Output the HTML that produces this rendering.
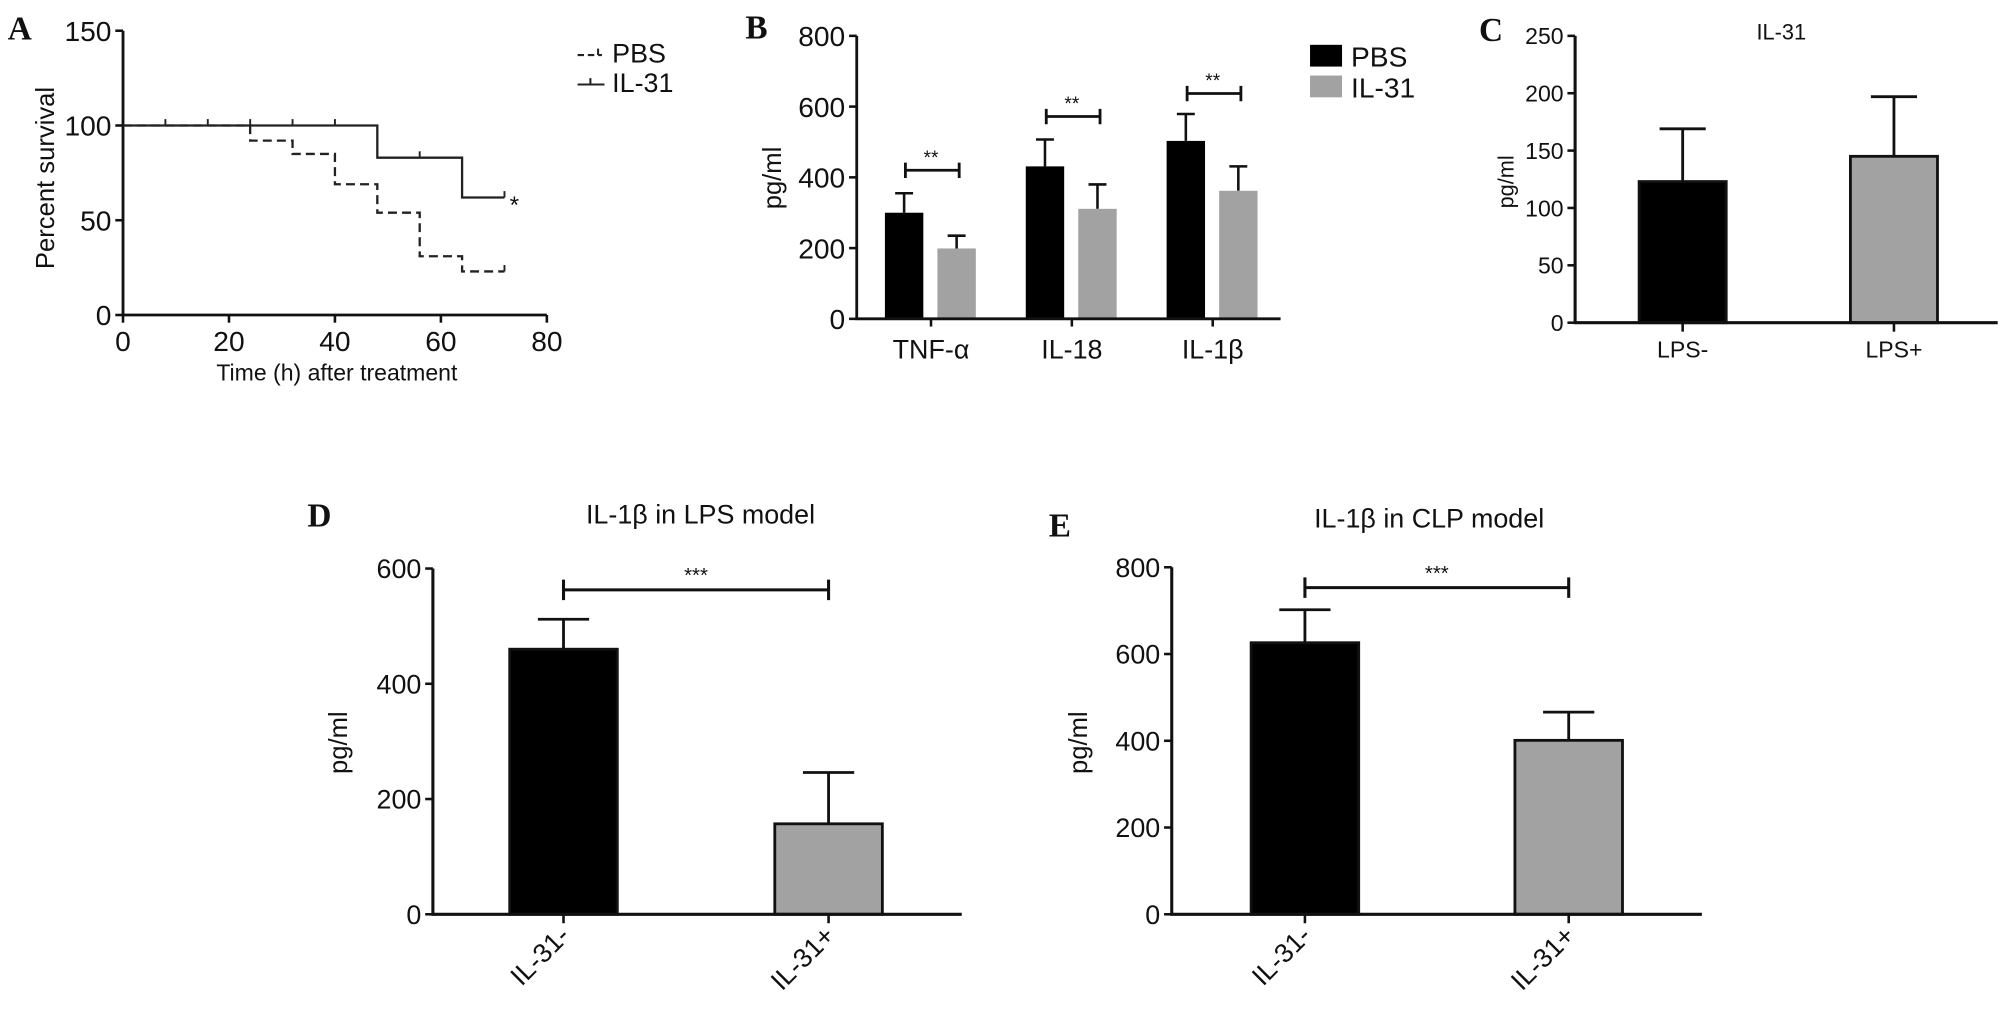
<!DOCTYPE html>
<html><head><meta charset="utf-8"><style>
html,body{margin:0;padding:0;background:#fff}
svg{display:block}
text{font-family:"Liberation Sans",Arial,sans-serif;fill:#111}
.pl{font-family:"Liberation Serif",serif;font-weight:bold;font-size:26px}
</style></head><body>
<svg id="fig" width="2008" height="1018" viewBox="0 0 1568 795" xmlns="http://www.w3.org/2000/svg"></svg>
<script>
// Panel A data
const aTicksX = [0,20,40,60,80];
const aTicksY = [0,50,100,150];
const pbsTimes = [0,24,32,40,48,56,64,72];
const pbsSurv = [100,92,85,69,54,31,23,23];
const il31Times = [0,48,64,72];
const il31Surv = [100,83,62,62];
const il31Censor = [8,16,24,32,40,56,72];
const pbsCensor = [72];
// Panel B data
const bCats = ["TNF-\u03b1","IL-18","IL-1\u03b2"];
const bPBS = [300,431,503];
const bPBSerr = [55,76,76];
const bIL31 = [199,311,362];
const bIL31err = [36,69,69];
const bSig = [420,572,637];
const bTicks = [0,200,400,600,800];
// Panel C data
const cCats = ["LPS-","LPS+"];
const cVals = [123,145];
const cErr = [46,52];
const cTicks = [0,50,100,150,200,250];
// Panel D data
const dCats = ["IL-31-","IL-31+"];
const dVals = [460,157];
const dErr = [52,89];
const dTicks = [0,200,400,600];
const dSig = [563];
// Panel E data
const eCats = ["IL-31-","IL-31+"];
const eVals = [626,401];
const eErr = [76,65];
const eTicks = [0,200,400,600,800];
const eSig = [753];

const NS="http://www.w3.org/2000/svg";
const svg=document.getElementById('fig');
function el(tag,attrs,parent,txt){const e=document.createElementNS(NS,tag);for(const k in attrs)e.setAttribute(k,attrs[k]);if(txt!==undefined)e.textContent=txt;(parent||svg).appendChild(e);return e;}
function grp(name){const g=el('g',{});return g;}

// ---------- Panel A ----------
(function(){
 const g=grp('panel-a');
 const x0=96,x1=427,y0=246,y1=24;
 const sx=v=>x0+(v-0)/(80)*(x1-x0), sy=v=>y0-(v/150)*(y0-y1);
 let t=el('text',{x:6,y:31,class:'pl'},g,'A');
 let ax=el('path',{d:`M${x0} ${y1}V${y0}H${x1}`,stroke:'#111','stroke-width':2.2,fill:'none'},g);
 
 aTicksY.forEach(v=>{el('line',{x1:x0-6,x2:x0,y1:sy(v),y2:sy(v),stroke:'#111','stroke-width':2},g);
  const tt=el('text',{x:x0-9,y:sy(v)+8,'text-anchor':'end','font-size':22},g,String(v));});
 aTicksX.forEach(v=>{el('line',{x1:sx(v),x2:sx(v),y1:y0,y2:y0+6,stroke:'#111','stroke-width':2},g);
  const tt=el('text',{x:sx(v),y:y0+28,'text-anchor':'middle','font-size':22},g,String(v));});
 let yt=el('text',{transform:`translate(42,139) rotate(-90)`,'text-anchor':'middle','font-size':20},g,'Percent survival');
 
 let xt=el('text',{x:263,y:297,'text-anchor':'middle','font-size':18},g,'Time (h) after treatment');
 
 function step(times,surv){let d=`M${sx(times[0])} ${sy(surv[0])}`;for(let i=1;i<times.length;i++){d+=`H${sx(times[i])}V${sy(surv[i])}`;}return d;}
 let p=el('path',{d:step(pbsTimes,pbsSurv),stroke:'#222','stroke-width':1.8,fill:'none','stroke-dasharray':'7,4'},g);
 
 let q=el('path',{d:step(il31Times,il31Surv),stroke:'#222','stroke-width':1.8,fill:'none'},g);
 
 function survAt(times,surv,t){let s=surv[0];for(let i=0;i<times.length;i++){if(times[i]<=t)s=surv[i];}return s;}
 il31Censor.forEach(t=>{const y=sy(survAt(il31Times,il31Surv,t));const c=el('line',{x1:sx(t),x2:sx(t),y1:y-5,y2:y,stroke:'#222','stroke-width':1.5},g);});
 pbsCensor.forEach(t=>{const y=sy(survAt(pbsTimes,pbsSurv,t));const c=el('line',{x1:sx(t),x2:sx(t),y1:y-5,y2:y,stroke:'#222','stroke-width':1.5},g);});
 let st=el('text',{x:sx(72)+4,y:sy(62)+12,'font-size':19},g,'*');
 const lg=grp('legend-a');g.appendChild(lg);
 el('path',{d:'M451 43H470M467 38V43',stroke:'#222','stroke-width':1.6,'stroke-dasharray':'5,3',fill:'none'},lg);
 let l1=el('text',{x:478,y:49,'font-size':21},lg,'PBS');
 el('path',{d:'M451 66H472M461 61V66',stroke:'#222','stroke-width':1.6,fill:'none'},lg);
 let l2=el('text',{x:478,y:72,'font-size':21},lg,'IL-31');
})();

// ---------- Panel B ----------
(function(){
 const g=grp('panel-b');
 const x0=669,x1=1000,y0=249,y1=28,max=800;
 const sy=v=>y0-v/max*(y0-y1);
 const centers=bCats.map((c,i)=>727+i*110);
 let t=el('text',{x:582,y:30,class:'pl'},g,'B');
 bTicks.forEach(v=>{el('line',{x1:x0-6,x2:x0,y1:sy(v),y2:sy(v),stroke:'#111','stroke-width':2},g);
  const tt=el('text',{x:x0-9,y:sy(v)+8,'text-anchor':'end','font-size':22},g,String(v));});
 let yt=el('text',{transform:`translate(610,139) rotate(-90)`,'text-anchor':'middle','font-size':20},g,'pg/ml');
 
 bCats.forEach((c,i)=>{
  const cx=centers[i];
  const eb1=el('path',{d:`M${cx-21} ${sy(bPBS[i])}V${sy(bPBS[i]+bPBSerr[i])}M${cx-28} ${sy(bPBS[i]+bPBSerr[i])}H${cx-14}`,stroke:'#111','stroke-width':2,fill:'none'},g);
  
  const eb2=el('path',{d:`M${cx+20} ${sy(bIL31[i])}V${sy(bIL31[i]+bIL31err[i])}M${cx+13} ${sy(bIL31[i]+bIL31err[i])}H${cx+27}`,stroke:'#111','stroke-width':2,fill:'none'},g);
  
  const b1=el('rect',{x:cx-36,y:sy(bPBS[i]),width:30,height:y0-sy(bPBS[i]),fill:'#000'},g);
  
  const b2=el('rect',{x:cx+5,y:sy(bIL31[i]),width:30,height:y0-sy(bIL31[i]),fill:'#a2a2a2'},g);
  
  el('line',{x1:cx,x2:cx,y1:y0,y2:y0+6,stroke:'#111','stroke-width':2},g);
  const tl=el('text',{x:cx,y:y0+31,'text-anchor':'middle','font-size':21},g,c);
  const yb=sy(bSig[i]);
  const br=el('path',{d:`M${cx-20} ${yb-6}V${yb+6}M${cx-20} ${yb}H${cx+22}M${cx+22} ${yb-6}V${yb+6}`,stroke:'#111','stroke-width':2.2,fill:'none'},g);
  
  const s=el('text',{x:cx,y:yb-5,'text-anchor':'middle','font-size':15},g,'**');
 });
 let ax=el('path',{d:`M${x0} ${y1}V${y0}H${x1}`,stroke:'#111','stroke-width':2.2,fill:'none'},g);
 
 const lg=grp('legend-b');g.appendChild(lg);
 el('rect',{x:1023,y:35,width:25,height:17,fill:'#000'},lg);
 let l1=el('text',{x:1055,y:52,'font-size':22},lg,'PBS');
 el('rect',{x:1023,y:59,width:25,height:17,fill:'#a2a2a2'},lg);
 let l2=el('text',{x:1055,y:76,'font-size':22},lg,'IL-31');
})();

// ---------- generic bordered bar panel ----------
function barPanel(o){
 const g=grp(o.name);
 const sy=v=>o.y0-v/o.max*(o.y0-o.y1);
 let t=el('text',{x:o.lx,y:o.ly,class:'pl'},g,o.letter);
 let ti=el('text',{x:o.tx,y:o.ty,'text-anchor':'middle','font-size':o.tfs},g,o.title);
 o.ticks.forEach(v=>{el('line',{x1:o.x0-6,x2:o.x0,y1:sy(v),y2:sy(v),stroke:'#111','stroke-width':2},g);
  const tt=el('text',{x:o.x0-9,y:sy(v)+o.fs*0.36,'text-anchor':'end','font-size':o.fs},g,String(v));});
 let yt=el('text',{transform:`translate(${o.ytx},${o.yty}) rotate(-90)`,'text-anchor':'middle','font-size':o.yfs},g,'pg/ml');
 
 o.cats.forEach((c,i)=>{
  const cx=o.centers[i], v=o.vals[i], e=o.err[i];
  const eb=el('path',{d:`M${cx} ${sy(v)}V${sy(v+e)}M${cx-o.cap} ${sy(v+e)}H${cx+o.cap}`,stroke:'#111','stroke-width':2.2,fill:'none'},g);
  
  const b=el('rect',{x:cx-o.bw/2,y:sy(v),width:o.bw,height:o.y0-sy(v),fill:i===0?'#000':'#a2a2a2',stroke:'#111','stroke-width':2.2},g);
  
  el('line',{x1:cx,x2:cx,y1:o.y0,y2:o.y0+7,stroke:'#111','stroke-width':2},g);
  let tl;
  if(o.rot){tl=el('text',{transform:`translate(${cx+6},${o.y0+18}) rotate(-45)`,'text-anchor':'end','font-size':o.fs},g,c);}
  else{tl=el('text',{x:cx,y:o.y0+27,'text-anchor':'middle','font-size':o.xfs},g,c);}
  
 });
 if(o.sig){o.sig.forEach(sv=>{const yb=sy(sv),a=o.centers[0],b=o.centers[1];
  const br=el('path',{d:`M${a} ${yb-8}V${yb+8}M${a} ${yb}H${b}M${b} ${yb-8}V${yb+8}`,stroke:'#111','stroke-width':2.4,fill:'none'},g);
  
  const s=el('text',{x:(a+b)/2,y:yb-6,'text-anchor':'middle','font-size':16},g,'***');});}
 let ax=el('path',{d:`M${o.x0} ${o.y1}V${o.y0}H${o.x1}`,stroke:'#111','stroke-width':2.4,fill:'none'},g);
 
}
barPanel({name:'panel-c',letter:'C',lx:1155,ly:32,title:'IL-31',tx:1391,ty:31,tfs:17,x0:1230,x1:1560,y0:252,y1:28,max:250,ticks:cTicks,cats:cCats,vals:cVals,err:cErr,centers:[1314,1479],bw:68,cap:18,fs:18,xfs:18,ytx:1182,yty:142,yfs:17,rot:false});
barPanel({name:'panel-d',letter:'D',lx:240,ly:411,title:'IL-1\u03b2 in LPS model',tx:547,ty:409,tfs:21,x0:338,x1:751,y0:714,y1:444,max:600,ticks:dTicks,cats:dCats,vals:dVals,err:dErr,sig:dSig,centers:[440,647],bw:84,cap:20,fs:21,ytx:271,yty:580,yfs:20,rot:true});
barPanel({name:'panel-e',letter:'E',lx:819,ly:419,title:'IL-1\u03b2 in CLP model',tx:1116,ty:412,tfs:21,x0:915,x1:1329,y0:714,y1:443,max:800,ticks:eTicks,cats:eCats,vals:eVals,err:eErr,sig:eSig,centers:[1019,1225],bw:84,cap:20,fs:21,ytx:849,yty:580,yfs:20,rot:true});
</script>
</body></html>
